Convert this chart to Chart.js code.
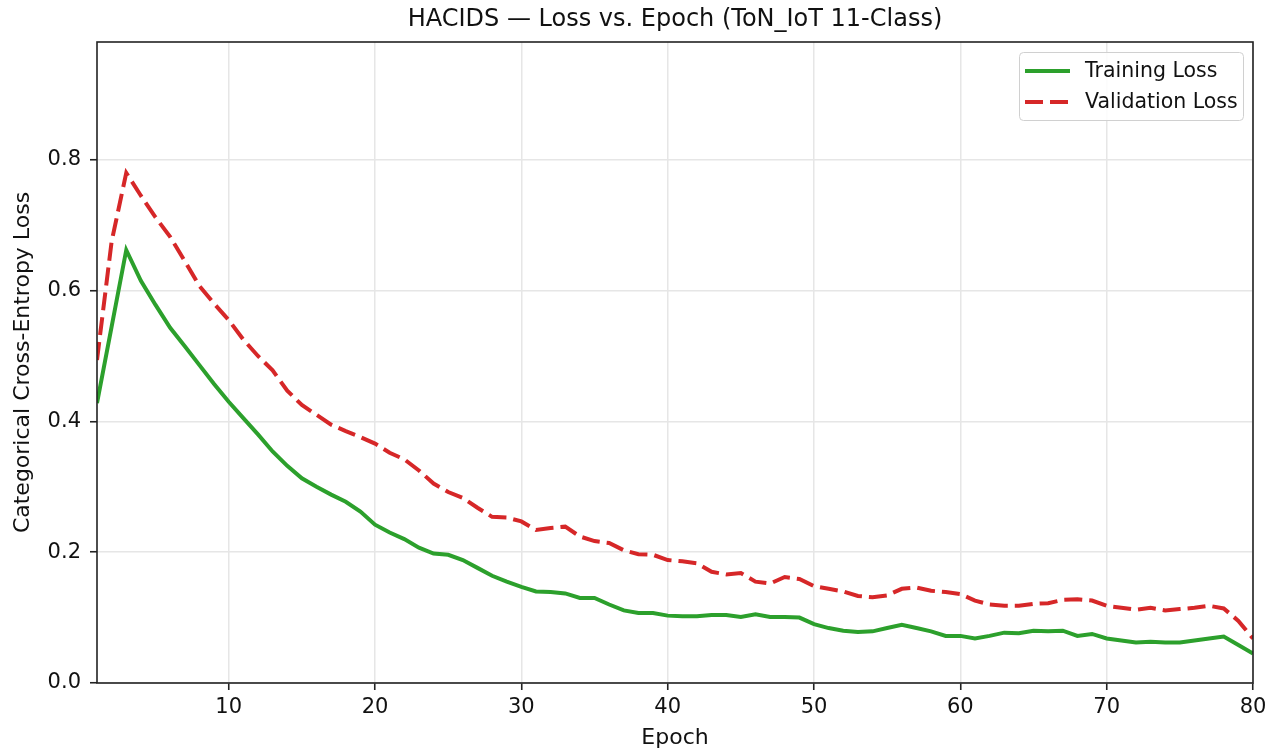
<!DOCTYPE html>
<html>
<head>
<meta charset="utf-8">
<script src="https://cdn.jsdelivr.net/npm/chart.js@4.4.1/dist/chart.umd.min.js"></script>
<style>
  html, body { margin: 0; padding: 0; background: #fff; }
  canvas { display: block; }
</style>
</head>
<body>
<canvas id="lossChart" width="1276" height="755"></canvas>
<script>
// epochs and loss values
const epochs = Array.from({ length: 80 }, (_, i) => i + 1);
const trainLoss = [
  0.428, 0.545, 0.662, 0.615, 0.578, 0.543, 0.515, 0.486, 0.457, 0.430,
  0.405, 0.380, 0.354, 0.332, 0.313, 0.300, 0.288, 0.277, 0.262, 0.242,
  0.230, 0.220, 0.207, 0.198, 0.196, 0.188, 0.176, 0.164, 0.155, 0.147,
  0.140, 0.139, 0.137, 0.130, 0.130, 0.120, 0.111, 0.107, 0.107, 0.103,
  0.102, 0.102, 0.104, 0.104, 0.101, 0.105, 0.101, 0.101, 0.100, 0.090,
  0.084, 0.080, 0.078, 0.079, 0.084, 0.089, 0.084, 0.079, 0.072, 0.072,
  0.068, 0.072, 0.077, 0.076, 0.080, 0.079, 0.080, 0.072, 0.075, 0.068,
  0.065, 0.062, 0.063, 0.062, 0.062, 0.065, 0.068, 0.071, 0.058, 0.045
];
const valLoss = [
  0.494, 0.675, 0.780, 0.745, 0.712, 0.682, 0.645, 0.607, 0.580, 0.555,
  0.525, 0.500, 0.478, 0.447, 0.425, 0.410, 0.395, 0.385, 0.376, 0.366,
  0.352, 0.342, 0.325, 0.305, 0.292, 0.283, 0.268, 0.254, 0.253, 0.247,
  0.234, 0.237, 0.239, 0.224, 0.217, 0.214, 0.203, 0.197, 0.196, 0.188,
  0.186, 0.183, 0.170, 0.166, 0.168, 0.155, 0.152, 0.162, 0.159, 0.148,
  0.144, 0.140, 0.133, 0.131, 0.134, 0.144, 0.146, 0.141, 0.139, 0.136,
  0.126, 0.120, 0.118, 0.118, 0.121, 0.122, 0.127, 0.128, 0.126, 0.118,
  0.115, 0.112, 0.115, 0.111, 0.113, 0.115, 0.118, 0.114, 0.095, 0.068
];
const xTicks = [10, 20, 30, 40, 50, 60, 70, 80];
const yTicks = [0.0, 0.2, 0.4, 0.6, 0.8];

const FONT = "'DejaVu Sans', sans-serif";
const TEXT = '#111';
const titleText = 'HACIDS \u2014 Loss vs. Epoch (ToN_IoT 11-Class)';

// frame around the plot, title over the plot, legend box in the top right
const decor = {
    id: 'decor',
    afterDraw(chart) {
        const { ctx, chartArea: a } = chart;
        ctx.save();
        ctx.strokeStyle = '#222';
        ctx.lineWidth = 1.6;
        ctx.strokeRect(a.left, a.top, a.right - a.left, a.bottom - a.top);

        ctx.fillStyle = TEXT;
        ctx.font = '24px ' + FONT;
        ctx.textAlign = 'center';
        ctx.textBaseline = 'middle';
        ctx.fillText(titleText, (a.left + a.right) / 2, 20);

        // legend
        const bx = a.right - 234, by = a.top + 10, bw = 224, bh = 68;
        ctx.beginPath();
        ctx.roundRect(bx + 0.5, by + 0.5, bw, bh, 4);
        ctx.fillStyle = 'rgba(255,255,255,0.85)';
        ctx.fill();
        ctx.strokeStyle = '#d0d0d0';
        ctx.lineWidth = 1;
        ctx.stroke();

        ctx.font = '20.5px ' + FONT;
        ctx.textAlign = 'left';
        chart.data.datasets.forEach((ds, i) => {
            const y = by + 19 + i * 31;
            ctx.beginPath();
            ctx.setLineDash(ds.borderDash || []);
            ctx.strokeStyle = ds.borderColor;
            ctx.lineWidth = ds.borderWidth;
            ctx.moveTo(bx + 6, y);
            ctx.lineTo(bx + 51, y);
            ctx.stroke();
            ctx.setLineDash([]);
            ctx.fillStyle = TEXT;
            ctx.fillText(ds.label, bx + 66, y + 1);
        });
        ctx.restore();
    }
};

new Chart(document.getElementById('lossChart'), {
    type: 'line',
    data: {
        datasets: [
            {
                label: 'Training Loss',
                data: epochs.map((e, i) => ({ x: e, y: trainLoss[i] })),
                borderColor: '#2ca02c',
                borderWidth: 4,
                pointRadius: 0,
                tension: 0,
                fill: false
            },
            {
                label: 'Validation Loss',
                data: epochs.map((e, i) => ({ x: e, y: valLoss[i] })),
                borderColor: '#d62728',
                borderWidth: 4,
                borderDash: [18, 7],
                pointRadius: 0,
                tension: 0,
                fill: false
            }
        ]
    },
    options: {
        responsive: false,
        devicePixelRatio: 1,
        animation: false,
        layout: { padding: { top: 42, right: 23, left: 0, bottom: 0 } },
        plugins: {
            legend: { display: false },
            title: { display: false },
            tooltip: { enabled: false }
        },
        scales: {
            x: {
                type: 'linear',
                min: 1,
                max: 80,
                afterBuildTicks: s => { s.ticks = xTicks.map(v => ({ value: v })); },
                afterFit: s => { s.height = 72; },
                grid: { color: '#e6e6e6', lineWidth: 1.5, tickLength: 7, tickColor: '#222', tickWidth: 1.6 },
                border: { display: false },
                ticks: { color: TEXT, font: { family: FONT, size: 21 }, padding: 5, maxRotation: 0 },
                title: { display: true, text: 'Epoch', color: TEXT, font: { family: FONT, size: 22 }, padding: { top: 0, bottom: 4 } }
            },
            y: {
                min: 0,
                max: 0.98,
                afterBuildTicks: s => { s.ticks = yTicks.map(v => ({ value: v })); },
                afterFit: s => { s.width = 97; },
                grid: { color: '#e6e6e6', lineWidth: 1.5, tickLength: 7, tickColor: '#222', tickWidth: 1.6 },
                border: { display: false },
                ticks: { color: TEXT, font: { family: FONT, size: 21 }, padding: 9, callback: v => v.toFixed(1) },
                title: { display: true, text: 'Categorical Cross-Entropy Loss', color: TEXT, font: { family: FONT, size: 22 }, padding: { top: 10, bottom: 0 } }
            }
        }
    },
    plugins: [decor]
});
</script>
</body>
</html>
